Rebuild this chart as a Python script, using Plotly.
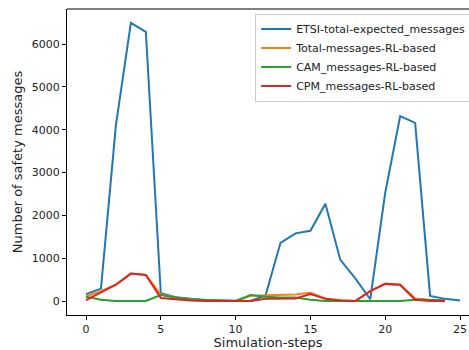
import plotly.graph_objects as go

steps_etsi = list(range(0, 26))
etsi = [160, 290, 4110, 6500, 6290, 180, 90, 50, 20, 10, 0, 0, 130, 1360, 1580, 1640, 2270, 960, 530, 40, 2530, 4320, 4160, 120, 50, 10]
steps_rl = list(range(0, 25))
total_rl = [110, 230, 380, 640, 610, 150, 80, 40, 20, 15, 0, 120, 130, 150, 150, 190, 60, 20, 0, 230, 400, 380, 60, 30, 20]
cam_rl = [100, 30, 0, 0, 0, 140, 80, 40, 20, 10, 0, 140, 100, 80, 80, 30, 0, 0, 0, 0, 0, 0, 30, 30, 20]
cpm_rl = [20, 200, 380, 640, 610, 70, 40, 10, 0, 0, 0, 0, 50, 60, 60, 160, 50, 10, 0, 230, 400, 380, 30, 0, 0]

names = ["ETSI-total-expected_messages", "Total-messages-RL-based", "CAM_messages-RL-based", "CPM_messages-RL-based"]
colors = ["#1f77b4", "#ff7f0e", "#2ca02c", "#d62728"]

fig = go.Figure()
for xs, ys, n, c in [(steps_etsi, etsi, names[0], colors[0]),
                     (steps_rl, total_rl, names[1], colors[1]),
                     (steps_rl, cam_rl, names[2], colors[2]),
                     (steps_rl, cpm_rl, names[3], colors[3])]:
    fig.add_trace(go.Scatter(x=xs, y=ys, mode="lines", name=n,
                             line=dict(color=c, width=2)))

font = dict(family="DejaVu Sans", size=11, color="#222")
fig.update_layout(
    width=469, height=350,
    margin=dict(l=67, r=0, t=9, b=35, autoexpand=False),
    plot_bgcolor="white", paper_bgcolor="white",
    font=font,
    showlegend=True,
    legend=dict(x=0.468, xanchor="left", y=0.985, yanchor="top",
                bgcolor="rgba(255,255,255,0.8)", bordercolor="#cccccc", borderwidth=1,
                font=dict(family="DejaVu Sans", size=11, color="#222"),
                tracegroupgap=0, itemwidth=30),
    xaxis=dict(range=[-1.27, 25.6], tickmode="array", tickvals=[0, 5, 10, 15, 20, 25],
               showgrid=False, zeroline=False, showline=True, linecolor="black", linewidth=1,
               ticks="outside", ticklen=4, tickcolor="black", automargin=False,
               title=dict(text="Simulation-steps", standoff=4)),
    yaxis=dict(range=[-327, 6822], tickmode="array", tickvals=[0, 1000, 2000, 3000, 4000, 5000, 6000],
               showgrid=False, zeroline=False, showline=True, linecolor="black", linewidth=1,
               ticks="outside", ticklen=4, tickcolor="black", automargin=False,
               title=dict(text="Number of safety messages", standoff=6)),
    shapes=[dict(type="line", xref="paper", yref="paper", x0=0, x1=1, y0=1, y1=1,
                 line=dict(color="black", width=1))],
)
fig.write_html("out.html", config={"displayModeBar": False},
               post_script="document.body.style.margin='0';document.body.style.overflow='hidden';")
